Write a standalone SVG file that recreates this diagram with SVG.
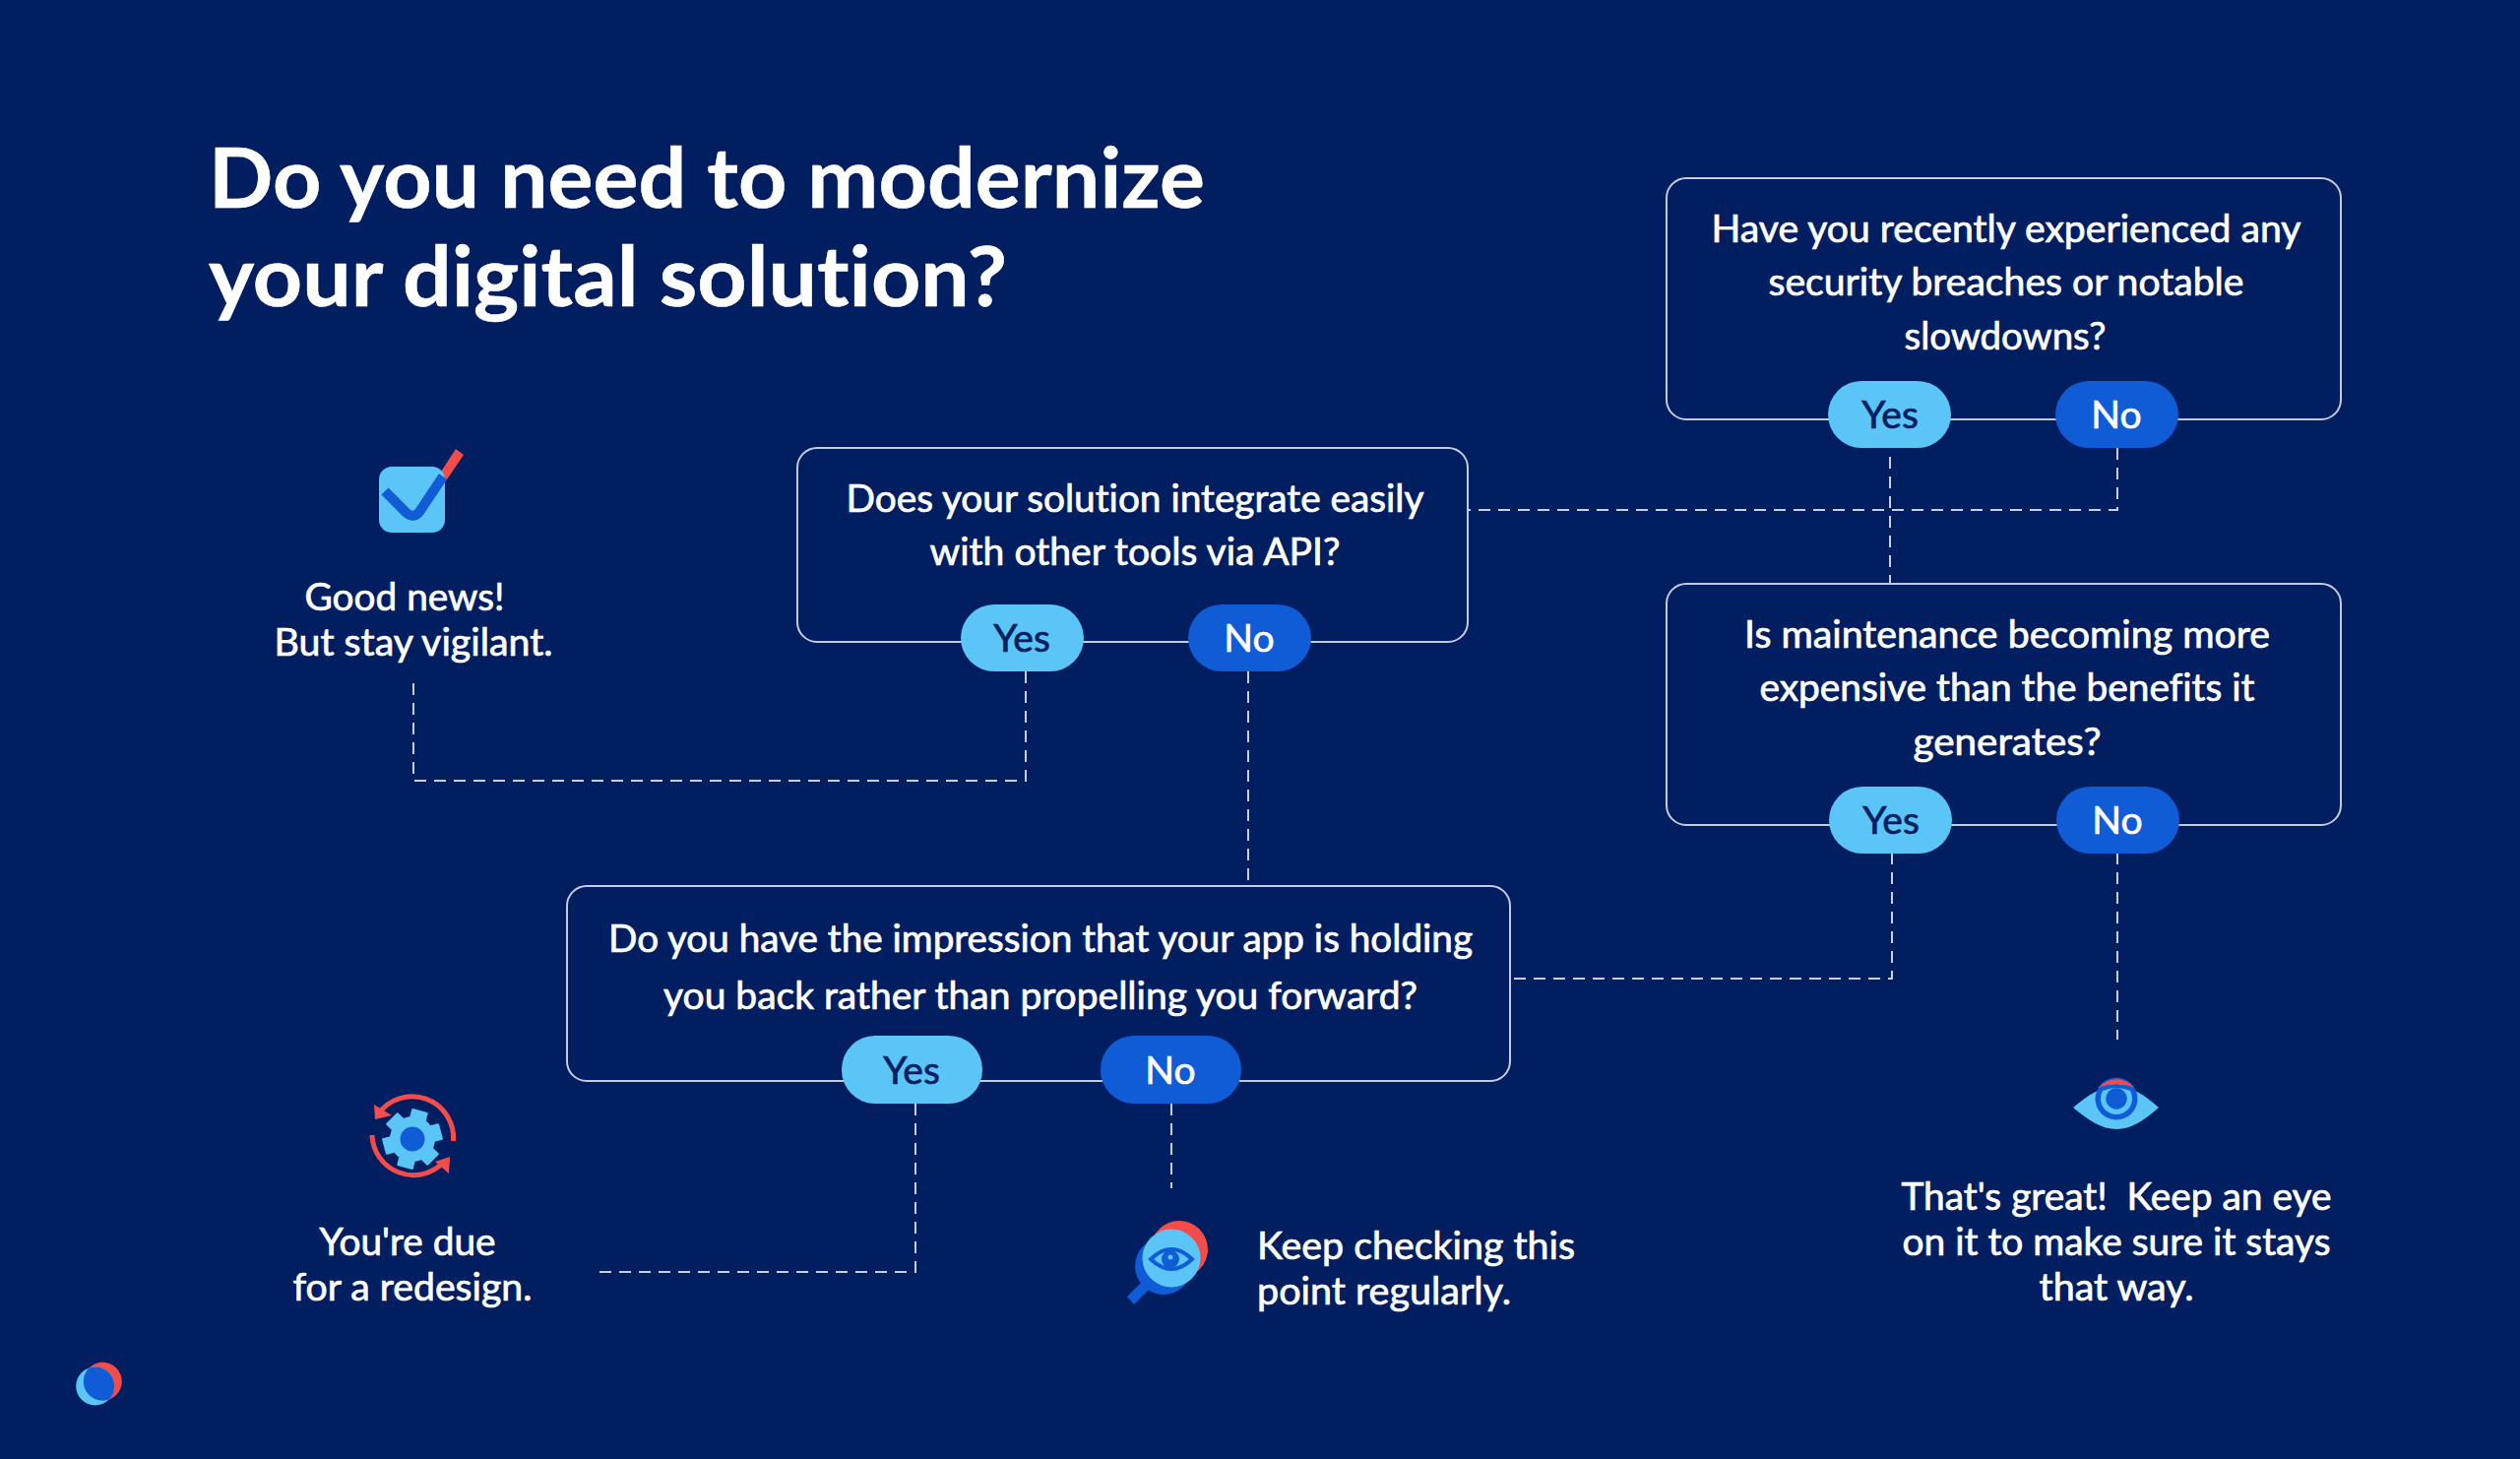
<svg xmlns="http://www.w3.org/2000/svg" width="2560" height="1482" viewBox="0 0 2560 1482">
<style>
text{font-family:"Lato","Noto Sans",sans-serif;fill:#fff;stroke:#fff;stroke-width:.7px;font-weight:400;font-size:38px;font-variant-ligatures:none}
.m{text-anchor:middle}
.title{font-size:84px;font-weight:700;stroke-width:.5px}
.box{fill:none;stroke:#c4cbdc;stroke-width:2}
.dash{fill:none;stroke:#c9cfdf;stroke-width:2;stroke-dasharray:12 8}
.yes{fill:#5ac5f6}.no{fill:#105cd6}
.y{fill:#011f60;stroke:#011f60;text-anchor:middle;font-size:39px}
.n{text-anchor:middle;font-size:39px}
.lb{fill:#5ac5f6}.db{fill:#105cd6}.rd{fill:#f34c4a}
</style>
<defs>
<clipPath id="lens"><circle cx="104.300" cy="1403.300" r="19.500"/></clipPath>
<rect id="tooth" class="lb" x="-8.500" y="-30" width="17" height="12" rx="1"/>
</defs>
<rect width="2560" height="1482" fill="#011f60"/>
<g id="title"><text class="title" x="212" y="211" textLength="1012" lengthAdjust="spacingAndGlyphs">Do you need to modernize</text><text class="title" x="212" y="311" textLength="811" lengthAdjust="spacingAndGlyphs">your digital solution?</text></g>
<g id="connectors">
<path class="dash" d="M1920 464V592"/>
<path class="dash" d="M2151 455V518H1491"/>
<path class="dash" d="M1268 682V899"/>
<path class="dash" d="M1042 682V793H420V692"/>
<path class="dash" d="M1922 866V994H1534"/>
<path class="dash" d="M2151 866V1056"/>
<path class="dash" d="M930 1121V1292H606"/>
<path class="dash" d="M1190 1121V1207"/>
</g>
<g id="q-security"><rect class="box" x="1693" y="181" width="685" height="245" rx="20"/>
<text class="m" x="2038" y="246" textLength="599" lengthAdjust="spacingAndGlyphs">Have you recently experienced any</text><text class="m" x="2038" y="300" textLength="483" lengthAdjust="spacingAndGlyphs">security breaches or notable</text><text class="m" x="2037" y="355" textLength="205" lengthAdjust="spacingAndGlyphs">slowdowns?</text>
<rect class="yes" x="1857" y="387" width="125" height="68" rx="34"/><text class="y" x="1920" y="435">Yes</text>
<rect class="no" x="2088" y="387" width="125" height="68" rx="34"/><text class="n" x="2150" y="435">No</text></g>
<g id="q-maintenance"><rect class="box" x="1693" y="593" width="685" height="245" rx="20"/>
<text class="m" x="2039" y="658" textLength="534" lengthAdjust="spacingAndGlyphs">Is maintenance becoming more</text><text class="m" x="2039" y="712" textLength="503" lengthAdjust="spacingAndGlyphs">expensive than the benefits it</text><text class="m" x="2039" y="767" textLength="191" lengthAdjust="spacingAndGlyphs">generates?</text>
<rect class="yes" x="1858" y="799" width="125" height="68" rx="34"/><text class="y" x="1921" y="847">Yes</text>
<rect class="no" x="2089" y="799" width="125" height="68" rx="34"/><text class="n" x="2151" y="847">No</text></g>
<g id="q-integrate"><rect class="box" x="810" y="455" width="681" height="197" rx="20"/>
<text class="m" x="1153" y="520" textLength="587" lengthAdjust="spacingAndGlyphs">Does your solution integrate easily</text><text class="m" x="1153" y="574" textLength="417" lengthAdjust="spacingAndGlyphs">with other tools via API?</text>
<rect class="yes" x="976" y="614" width="125" height="68" rx="34"/><text class="y" x="1038" y="662">Yes</text>
<rect class="no" x="1207" y="614" width="125" height="68" rx="34"/><text class="n" x="1269" y="662">No</text></g>
<g id="q-impression"><rect class="box" x="576" y="900" width="958" height="198" rx="20"/>
<text class="m" x="1057" y="967" textLength="878" lengthAdjust="spacingAndGlyphs">Do you have the impression that your app is holding</text><text class="m" x="1057" y="1025" textLength="766" lengthAdjust="spacingAndGlyphs">you back rather than propelling you forward?</text>
<rect class="yes" x="855" y="1052" width="143" height="69" rx="34"/><text class="y" x="926" y="1101">Yes</text>
<rect class="no" x="1118" y="1052" width="143" height="69" rx="34"/><text class="n" x="1189" y="1101">No</text></g>
<g id="good-news">
<path d="M463 456L471 462L452 490L448 479Z" class="rd"/>
<rect class="lb" x="385" y="474" width="67" height="67" rx="13"/>
<path d="M391 499L413 521Q420 527 426 520L450 484" fill="none" stroke="#105cd6" stroke-width="10"/>
<text class="m" x="411" y="620" textLength="203" lengthAdjust="spacingAndGlyphs">Good news!</text><text class="m" x="420" y="666" textLength="283" lengthAdjust="spacingAndGlyphs">But stay vigilant.</text></g>
<g id="redesign">
<path d="M460.500 1159A42 42 0 0 0 384 1132M378 1153A42 42 0 0 0 450 1181" fill="none" stroke="#f34c4a" stroke-width="5"/>
<path class="rd" d="M380 1122L381 1137L398 1133Z M457 1175L442 1180L456 1192Z"/>
<g transform="translate(419 1157)"><circle class="lb" r="23"/>
<use href="#tooth" transform="rotate(15)"/><use href="#tooth" transform="rotate(75)"/><use href="#tooth" transform="rotate(135)"/><use href="#tooth" transform="rotate(195)"/><use href="#tooth" transform="rotate(255)"/><use href="#tooth" transform="rotate(315)"/>
<circle class="db" r="12.500"/></g>
<text class="m" x="414" y="1275" textLength="179" lengthAdjust="spacingAndGlyphs">You're due</text><text class="m" x="419" y="1321" textLength="243" lengthAdjust="spacingAndGlyphs">for a redesign.</text></g>
<g id="keep-checking">
<path class="db" d="M1145 1317L1152 1325L1167 1310L1159 1303Z"/>
<circle class="rd" cx="1198" cy="1269" r="29"/>
<circle class="db" cx="1182" cy="1286" r="29"/>
<circle class="lb" cx="1190" cy="1278" r="29.500"/>
<path d="M1169 1279Q1190 1259 1211 1279Q1190 1299 1169 1279Z" fill="none" stroke="#105cd6" stroke-width="4"/>
<circle class="db" cx="1189" cy="1279" r="9"/><circle class="lb" cx="1189" cy="1277" r="2.500"/>
<text x="1277" y="1279" textLength="323" lengthAdjust="spacingAndGlyphs">Keep checking this</text><text x="1277" y="1325" textLength="258" lengthAdjust="spacingAndGlyphs">point regularly.</text></g>
<g id="thats-great">
<path class="lb" d="M2106 1125C2122 1112 2135 1103 2150 1103C2165 1103 2178 1112 2193 1125C2178 1138 2165 1147 2150 1147C2135 1147 2122 1138 2106 1125Z"/>
<circle class="db" cx="2150" cy="1116" r="21.500"/>
<circle class="lb" cx="2150" cy="1116" r="16"/><circle class="db" cx="2150" cy="1116" r="10.700"/>
<path d="M2136 1106Q2150 1100 2164 1106" fill="none" stroke="#105cd6" stroke-width="4"/>
<path class="rd" d="M2132 1105A23 23 0 0 1 2168 1105Q2150 1097 2132 1105Z"/>
<text class="m" x="2150" y="1229" textLength="437" lengthAdjust="spacingAndGlyphs" xml:space="preserve">That's great!  Keep an eye</text><text class="m" x="2150" y="1275" textLength="435" lengthAdjust="spacingAndGlyphs">on it to make sure it stays</text><text class="m" x="2150" y="1321" textLength="157" lengthAdjust="spacingAndGlyphs">that way.</text></g>
<g id="logo"><circle class="rd" cx="104.300" cy="1403.300" r="19.500"/><circle class="lb" cx="96.700" cy="1408" r="19.500"/><circle class="db" cx="96.700" cy="1408" r="19.500" clip-path="url(#lens)"/></g>
</svg>
